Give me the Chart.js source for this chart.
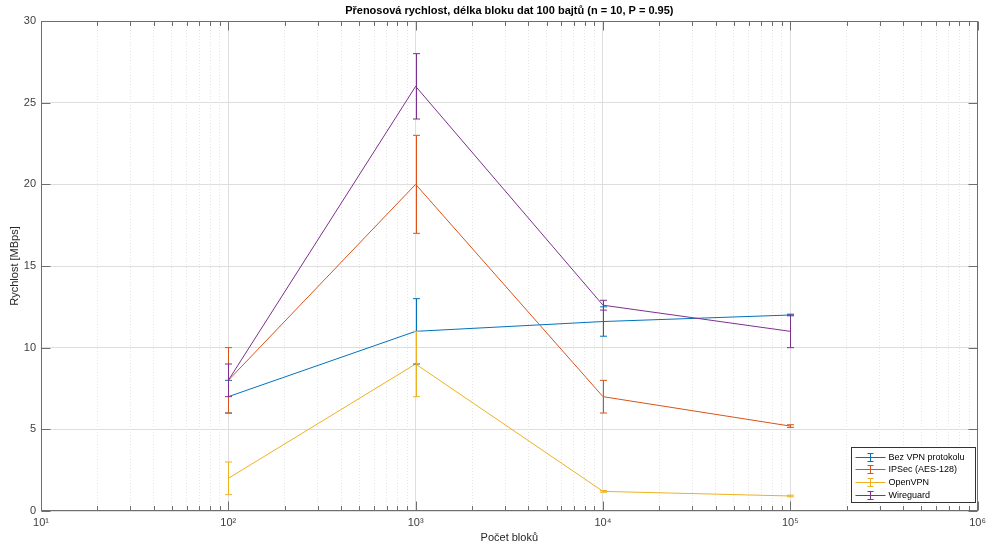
<!DOCTYPE html>
<html>
<head>
<meta charset="utf-8">
<script src="https://cdn.jsdelivr.net/npm/chart.js@4/dist/chart.umd.min.js"></script>
<style>
    html, body { margin: 0; padding: 0; background: #fff; }
    #obal { position: relative; width: 991px; height: 548px; }
</style>
</head>
<body>
<div id="obal"><canvas id="graf"></canvas></div>
<script>
const bloky = [100, 1000, 10000, 100000];

const bezVpn = [7, 11, 11.6, 12];
const bezVpnChyba = [1, 2, 0.9, 0.05];
const ipsec = [8, 20, 7, 5.2];
const ipsecChyba = [2, 3, 1, 0.08];
const openVpn = [2, 9, 1.2, 0.92];
const openVpnChyba = [1, 2, 0.05, 0.05];
const wireguard = [8, 26, 12.6, 11];
const wireguardChyba = [1, 2, 0.3, 1];

const nazvySerii = ['Bez VPN protokolu', 'IPSec (AES-128)', 'OpenVPN', 'Wireguard'];
const barvy = ['#0072BD', '#D95319', '#EDB120', '#7E2F8E'];

const dekady = [10, 100, 1000, 10000, 100000, 1000000];
const exponenty = ['¹', '²', '³', '⁴', '⁵', '⁶'];
const yTicky = [0, 5, 10, 15, 20, 25, 30];

const titulek = 'Přenosová rychlost, délka bloku dat 100 bajtů (n = 10, P = 0.95)';
const popisX = 'Počet bloků';
const popisY = 'Rychlost [MBps]';

const pismo = "'Liberation Sans', Arial, sans-serif";

// vsechny ticky logaritmicke osy (1..9 v kazde dekade)
const xTicky = [];
dekady.forEach((d, i) => {
    if (i === dekady.length - 1) {
        xTicky.push(d);
        return;
    }
    for (let k = 1; k <= 9; k++) xTicky.push(d * k);
});

function jeDekada(v) {
    return dekady.includes(v);
}

function body(hodnoty) {
    return bloky.map((b, i) => ({ x: b, y: hodnoty[i] }));
}

const serie = [bezVpn, ipsec, openVpn, wireguard];
const chyby = [bezVpnChyba, ipsecChyba, openVpnChyba, wireguardChyba];

const datasets = serie.map((hodnoty, i) => ({
    label: nazvySerii[i],
    data: body(hodnoty),
    chyby: chyby[i],
    borderColor: barvy[i],
    backgroundColor: barvy[i],
    borderWidth: 1,
    pointRadius: 0,
    tension: 0,
    fill: false,
    order: serie.length - i
}));

const chybovePruhy = {
    id: 'chybovePruhy',
    afterDatasetsDraw(chart) {
        const { ctx, scales: { x, y } } = chart;
        chart.data.datasets.forEach(ds => {
            ctx.save();
            ctx.strokeStyle = ds.borderColor;
            ctx.lineWidth = 1;
            ds.data.forEach((bod, i) => {
                const px = Math.round(x.getPixelForValue(bod.x)) + 0.5;
                const yHi = y.getPixelForValue(bod.y + ds.chyby[i]);
                const yLo = y.getPixelForValue(bod.y - ds.chyby[i]);
                ctx.beginPath();
                ctx.moveTo(px, yHi);
                ctx.lineTo(px, yLo);
                ctx.moveTo(px - 3.5, yHi);
                ctx.lineTo(px + 3.5, yHi);
                ctx.moveTo(px - 3.5, yLo);
                ctx.lineTo(px + 3.5, yLo);
                ctx.stroke();
            });
            ctx.restore();
        });
    }
};

const ramecek = {
    id: 'ramecek',
    afterDraw(chart) {
        const { ctx, chartArea: a, scales: { x, y } } = chart;
        const l = Math.round(a.left) + 0.5;
        const r = Math.round(a.right) - 0.5;
        const t = Math.round(a.top) + 0.5;
        const b = Math.round(a.bottom) - 0.5;

        ctx.save();
        ctx.strokeStyle = '#6e6e6e';
        ctx.lineWidth = 1;
        ctx.strokeRect(l, t, r - l, b - t);

        ctx.beginPath();
        xTicky.forEach(v => {
            const px = Math.round(x.getPixelForValue(v)) + 0.5;
            const delka = jeDekada(v) ? 9 : 4.5;
            ctx.moveTo(px, b);
            ctx.lineTo(px, b - delka);
            ctx.moveTo(px, t);
            ctx.lineTo(px, t + delka);
        });
        yTicky.forEach(v => {
            const py = Math.round(y.getPixelForValue(v)) + 0.5;
            ctx.moveTo(l, py);
            ctx.lineTo(l + 9, py);
            ctx.moveTo(r, py);
            ctx.lineTo(r - 9, py);
        });
        ctx.stroke();

        // titulek nad grafem
        ctx.fillStyle = '#000';
        ctx.font = `bold 11px ${pismo}`;
        ctx.textAlign = 'center';
        ctx.textBaseline = 'middle';
        ctx.fillText(titulek, (a.left + a.right) / 2, 11);

        // legenda vpravo dole
        const sirka = 124;
        const vyska = 55;
        const lx = Math.round(a.right - 3 - sirka) + 0.5;
        const ly = Math.round(a.bottom - 9 - vyska) + 0.5;
        ctx.fillStyle = '#fff';
        ctx.fillRect(lx, ly, sirka, vyska);
        ctx.strokeStyle = '#333';
        ctx.strokeRect(lx, ly, sirka, vyska);

        ctx.font = `9px ${pismo}`;
        ctx.textAlign = 'left';
        nazvySerii.forEach((nazev, i) => {
            const ry = Math.round(ly + 9 + i * 12.8) + 0.5;
            const sx = lx + 4;
            const stred = sx + 15;
            ctx.strokeStyle = barvy[i];
            ctx.beginPath();
            ctx.moveTo(sx, ry);
            ctx.lineTo(sx + 30, ry);
            ctx.moveTo(stred, ry - 4);
            ctx.lineTo(stred, ry + 4);
            ctx.moveTo(stred - 3, ry - 4);
            ctx.lineTo(stred + 3, ry - 4);
            ctx.moveTo(stred - 3, ry + 4);
            ctx.lineTo(stred + 3, ry + 4);
            ctx.stroke();
            ctx.fillStyle = '#000';
            ctx.fillText(nazev, sx + 33, ry);
        });
        ctx.restore();
    }
};

new Chart(document.getElementById('graf').getContext('2d'), {
    type: 'line',
    data: { datasets },
    options: {
        responsive: true,
        maintainAspectRatio: false,
        animation: false,
        layout: { padding: { top: 21, right: 12, bottom: 0, left: 0 } },
        plugins: {
            legend: { display: false },
            tooltip: { enabled: false }
        },
        scales: {
            x: {
                type: 'logarithmic',
                position: 'bottom',
                min: 10,
                max: 1000000,
                afterBuildTicks(scale) {
                    scale.ticks = xTicky.map(v => ({ value: v, major: jeDekada(v) }));
                },
                afterFit(scale) {
                    scale.height = 37;
                },
                ticks: {
                    autoSkip: false,
                    maxRotation: 0,
                    padding: 5,
                    color: '#404040',
                    font: { family: pismo, size: 11 },
                    callback(value) {
                        const i = dekady.indexOf(value);
                        return i >= 0 ? '10' + exponenty[i] : '';
                    }
                },
                grid: {
                    drawTicks: false,
                    color: ctx => (ctx.tick && jeDekada(ctx.tick.value)) ? '#dedede' : '#e4e4e4'
                },
                border: {
                    display: false,
                    dash: ctx => (ctx.tick && !jeDekada(ctx.tick.value)) ? [1, 2] : []
                },
                title: {
                    display: true,
                    text: popisX,
                    color: '#262626',
                    font: { family: pismo, size: 11 },
                    padding: { top: 0, bottom: 3 }
                }
            },
            y: {
                type: 'linear',
                min: 0,
                max: 30,
                afterBuildTicks(scale) {
                    scale.ticks = yTicky.map(v => ({ value: v }));
                },
                afterFit(scale) {
                    scale.width = 41;
                },
                ticks: {
                    padding: 5,
                    color: '#404040',
                    font: { family: pismo, size: 11 }
                },
                grid: {
                    drawTicks: false,
                    color: '#dedede'
                },
                border: { display: false },
                title: {
                    display: true,
                    text: popisY,
                    color: '#262626',
                    font: { family: pismo, size: 11 },
                    padding: { top: 8, bottom: 0 }
                }
            }
        }
    },
    plugins: [chybovePruhy, ramecek]
});
</script>
</body>
</html>
